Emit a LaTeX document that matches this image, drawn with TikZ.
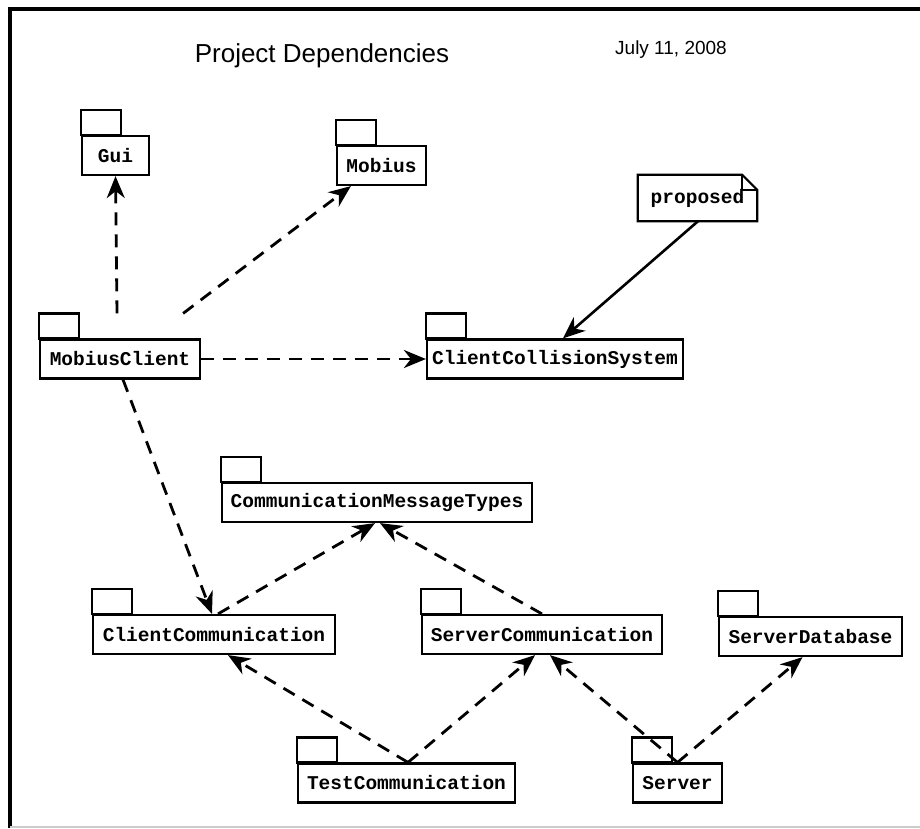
\documentclass[tikz,border=0pt]{standalone}
\usepackage{fontspec}
\setmainfont{Liberation Sans}
\newfontfamily\pkgfont{Liberation Mono}
\usetikzlibrary{arrows.meta,calc}
\tikzset{
  pkg/.style={draw, line width=2.2pt, minimum height=39pt, inner sep=0pt, fill=white,
    font=\pkgfont\bfseries\fontsize{19.5}{22}\selectfont},
  pkgline/.style={draw, line width=2.2pt},
  tiphead/.style={-{Stealth[length=22pt,width=18pt,inset=7pt,sep=0pt]}},
  dep/.style={draw, line width=2.8pt, dash pattern=on 13pt off 9pt, tiphead},
  solidarrow/.style={draw, line width=2.6pt, tiphead},
  notebox/.style={minimum width=119pt, minimum height=46pt, inner sep=0pt,
    font=\pkgfont\bfseries\fontsize{19.5}{22}\selectfont},
}
\newcommand{\pkgnode}[5]{%
  \node[pkg, minimum width=#4pt] (#1) at (#2,#3) {#5};
  \draw[pkgline] (#1.north west) rectangle ++(40pt,25pt);
}
\begin{document}
\begin{tikzpicture}[x=1pt,y=-1pt]
\useasboundingbox (0,0) rectangle (920,828);
\fill[white] (0,0) rectangle (920,828);
% frame
\draw[line width=4pt] (10,828) -- (10,9) -- (920,9);
\draw[gray!40, line width=2pt] (10,827) -- (920,827);
% titles
\node[font=\fontsize{26}{30}\selectfont] (title) at (322,56) {Project Dependencies};
\node[font=\fontsize{19}{22}\selectfont] (date) at (671,50) {July 11, 2008};
% packages
\pkgnode{gui}{115.5}{155.5}{67}{Gui}
\pkgnode{mobius}{381.5}{165.5}{89}{Mobius}
\pkgnode{mc}{120}{359}{160}{MobiusClient}
\pkgnode{ccs}{555}{359}{256}{ClientCollisionSystem}
\pkgnode{cmt}{377}{502.5}{310}{CommunicationMessageTypes}
\pkgnode{cc}{214}{634.5}{242}{ClientCommunication}
\pkgnode{sc}{542}{634.5}{240}{ServerCommunication}
\pkgnode{sdb}{810.5}{636.5}{183}{ServerDatabase}
\pkgnode{tc}{406.5}{783}{217}{TestCommunication}
\pkgnode{server}{677.5}{783}{89}{Server}
% note
\node[notebox] (note) at (697.5,198) {proposed};
\draw[line width=2.2pt] (note.south west) -- (note.north west) -- ([xshift=-15pt]note.north east)
  -- ([yshift=-15pt]note.north east) -- (note.south east) -- cycle;
\draw[line width=1.8pt] ([xshift=-15pt]note.north east) -- ([xshift=-15pt,yshift=-15pt]note.north east)
  -- ([yshift=-15pt]note.north east);
% connectors
\draw[dep] ([xshift=-3pt,yshift=25pt]mc.north) -- (gui.south);
\draw[dep] ([xshift=-18pt,yshift=25pt]mc.north east) -- ([xshift=15pt]mobius.south west);
\draw[dep] (mc.east) -- (ccs.west);
\draw[dep] ([xshift=3pt]mc.south) -- ([xshift=-2pt]cc.north);
\draw[solidarrow] ([xshift=0.5pt]note.south) -- ([xshift=8pt]ccs.north);
\draw[dep] ([xshift=4pt]cc.north) -- ([xshift=-2pt]cmt.south);
\draw[dep] (sc.north) -- ([xshift=3pt]cmt.south);
\draw[dep] ([xshift=1.5pt]tc.north) -- ([xshift=14pt]cc.south);
\draw[dep] ([xshift=1.5pt]tc.north) -- ([xshift=-7pt]sc.south);
\draw[dep] (server.north) -- ([xshift=8pt]sc.south);
\draw[dep] (server.north) -- ([xshift=-8pt]sdb.south);
\end{tikzpicture}
\end{document}
